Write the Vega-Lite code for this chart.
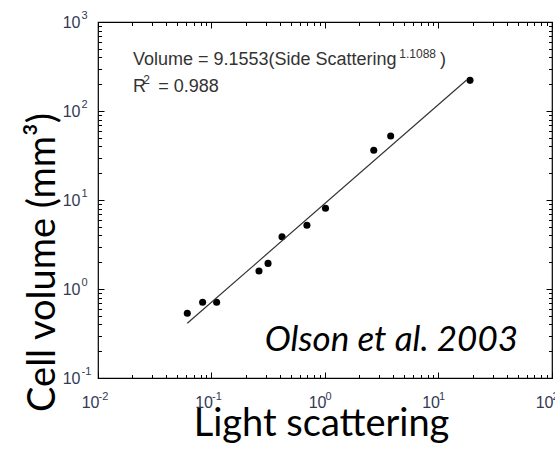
{
  "$schema": "https://vega.github.io/schema/vega-lite/v6.json",
  "width": 454,
  "height": 356,
  "autosize": {"type": "none"},
  "padding": {"left": 98, "top": 22, "right": 3, "bottom": 80},
  "background": "white",
  "config": {
    "view": {"stroke": "black", "strokeWidth": 1.2},
    "axis": {
      "domain": false,
      "grid": false,
      "tickColor": "black",
      "tickWidth": 1,
      "labelFont": "Liberation Sans",
      "labelColor": "#333a55",
      "labelFontSize": 16,
      "labelFlush": false,
      "labelOverlap": false,
      "titleFont": "Lato",
      "titleFontWeight": "normal",
      "titleColor": "black"
    }
  },
  "layer": [
    {
      "data": {"values": [
        {"x": 0.0612, "y": 0.533},
        {"x": 0.0835, "y": 0.709},
        {"x": 0.111, "y": 0.709},
        {"x": 0.262, "y": 1.59},
        {"x": 0.315, "y": 1.94},
        {"x": 0.418, "y": 3.87},
        {"x": 0.693, "y": 5.2},
        {"x": 1.01, "y": 8.07},
        {"x": 2.69, "y": 36.2},
        {"x": 3.79, "y": 52.4},
        {"x": 18.95, "y": 221}
      ]},
      "mark": {"type": "point", "filled": true, "color": "black", "opacity": 1, "size": 50},
      "encoding": {
        "x": {"field": "x", "type": "quantitative",
          "scale": {"type": "log", "domain": [0.01, 100], "nice": false},
          "axis": {"orient": "bottom", "values": [0.01, 0.1, 1, 10, 100], "ticks": false,
            "labelExpr": "'10'", "labelAlign": "right", "labelBaseline": "top", "labelPadding": 16, "labelOffset": 1,
            "title": "Light scattering", "titleFontSize": 38, "titleX": 223, "titleY": 57,
            "titleAlign": "center", "titleBaseline": "alphabetic", "titleAnchor": null}},
        "y": {"field": "y", "type": "quantitative",
          "scale": {"type": "log", "domain": [0.1, 1000], "nice": false},
          "axis": {"orient": "left", "values": [0.1, 1, 10, 100, 1000], "ticks": false,
            "labelExpr": "'10'", "labelAlign": "right", "labelBaseline": "middle", "labelPadding": 18,
            "title": "Cell volume (mm³)", "titleFontSize": 38, "titleX": -44, "titleY": 240,
            "titleAngle": -90, "titleAlign": "center", "titleBaseline": "alphabetic", "titleAnchor": null}}
      }
    },
    {
      "data": {"values": [
        {"x": 0.0612, "y": 0.412},
        {"x": 17.7, "y": 222.8}
      ]},
      "mark": {"type": "line", "color": "#333333", "strokeWidth": 1.2},
      "encoding": {
        "x": {"field": "x", "type": "quantitative",
          "scale": {"type": "log", "domain": [0.01, 100], "nice": false},
          "axis": {"orient": "top", "values": [0.01, 0.1, 1, 10, 100], "tickSize": -6, "labels": false, "title": null}},
        "y": {"field": "y", "type": "quantitative",
          "scale": {"type": "log", "domain": [0.1, 1000], "nice": false},
          "axis": {"orient": "right", "values": [0.1, 1, 10, 100, 1000], "tickSize": -6, "labels": false, "title": null}}
      }
    },
    {
      "data": {"values": [
        {"x": 0.0203, "y": 328.8, "t": "Volume = 9.1553(Side Scattering"},
        {"x": 10.31, "y": 328.8, "t": ")"}
      ]},
      "mark": {"type": "text", "font": "Liberation Sans", "fontSize": 18, "color": "#333333", "align": "left", "baseline": "alphabetic"},
      "encoding": {
        "text": {"field": "t"},
        "x": {"field": "x", "type": "quantitative",
          "scale": {"type": "log", "domain": [0.01, 100], "nice": false},
          "axis": {"orient": "bottom", "values": [0.01, 0.1, 1, 10, 100], "ticks": false,
            "labelExpr": "datum.value == 0.01 ? '-2' : datum.value == 0.1 ? '-1' : datum.value == 1 ? '0' : datum.value == 10 ? '1' : '2'",
            "labelAlign": "left", "labelBaseline": "top", "labelPadding": 12, "labelFontSize": 11, "labelOffset": 0, "title": null}},
        "y": {"field": "y", "type": "quantitative",
          "scale": {"type": "log", "domain": [0.1, 1000], "nice": false},
          "axis": {"orient": "left", "values": [0.1, 1, 10, 100, 1000], "ticks": false,
            "labelExpr": "datum.value == 0.1 ? '-1' : datum.value == 1 ? '0' : datum.value == 10 ? '1' : datum.value == 100 ? '2' : '3'",
            "labelAlign": "left", "labelBaseline": "middle", "labelPadding": 17, "labelFontSize": 11, "labelOffset": -7, "title": null}}
      }
    },
    {
      "data": {"values": [
        {"x": 4.514, "y": 394.0, "t": "1.1088"},
        {"x": 0.02506, "y": 200.9, "t": "2"}
      ]},
      "mark": {"type": "text", "font": "Liberation Sans", "fontSize": 12, "color": "#333333", "align": "left", "baseline": "alphabetic"},
      "encoding": {
        "text": {"field": "t"},
        "x": {"field": "x", "type": "quantitative",
          "scale": {"type": "log", "domain": [0.01, 100], "nice": false},
          "axis": {"orient": "bottom", "values": [0.01, 0.1, 1, 10, 100], "tickSize": -6, "labels": false, "title": null}},
        "y": {"field": "y", "type": "quantitative",
          "scale": {"type": "log", "domain": [0.1, 1000], "nice": false},
          "axis": {"orient": "left", "values": [0.1, 1, 10, 100, 1000], "tickSize": -6, "labels": false, "title": null}}
      }
    },
    {
      "data": {"values": [
        {"x": 50.15, "y": 0.2025, "t": "Olson et al. 2003"}
      ]},
      "mark": {"type": "text", "font": "Lato", "fontStyle": "italic", "fontSize": 35, "color": "black", "align": "right", "baseline": "alphabetic"},
      "encoding": {
        "text": {"field": "t"},
        "x": {"field": "x", "type": "quantitative",
          "scale": {"type": "log", "domain": [0.01, 100], "nice": false},
          "axis": {"orient": "bottom", "values": [0.02, 0.03, 0.04, 0.05, 0.06, 0.07, 0.08, 0.09, 0.2, 0.3, 0.4, 0.5, 0.6, 0.7, 0.8, 0.9, 2, 3, 4, 5, 6, 7, 8, 9, 20, 30, 40, 50, 60, 70, 80, 90],
            "tickSize": -3.5, "labels": false, "title": null}},
        "y": {"field": "y", "type": "quantitative",
          "scale": {"type": "log", "domain": [0.1, 1000], "nice": false},
          "axis": {"orient": "left", "values": [0.2, 0.3, 0.4, 0.5, 0.6, 0.7, 0.8, 0.9, 2, 3, 4, 5, 6, 7, 8, 9, 20, 30, 40, 50, 60, 70, 80, 90, 200, 300, 400, 500, 600, 700, 800, 900],
            "tickSize": -3.5, "labels": false, "title": null}}
      }
    },
    {
      "data": {"values": [
        {"x": 0.0203, "y": 164.8, "t": "R"},
        {"x": 0.03399, "y": 164.8, "t": "= 0.988"}
      ]},
      "mark": {"type": "text", "font": "Liberation Sans", "fontSize": 18, "color": "#333333", "align": "left", "baseline": "alphabetic"},
      "encoding": {
        "text": {"field": "t"},
        "x": {"field": "x", "type": "quantitative",
          "scale": {"type": "log", "domain": [0.01, 100], "nice": false},
          "axis": {"orient": "top", "values": [0.02, 0.03, 0.04, 0.05, 0.06, 0.07, 0.08, 0.09, 0.2, 0.3, 0.4, 0.5, 0.6, 0.7, 0.8, 0.9, 2, 3, 4, 5, 6, 7, 8, 9, 20, 30, 40, 50, 60, 70, 80, 90],
            "tickSize": -3.5, "labels": false, "title": null}},
        "y": {"field": "y", "type": "quantitative",
          "scale": {"type": "log", "domain": [0.1, 1000], "nice": false},
          "axis": {"orient": "right", "values": [0.2, 0.3, 0.4, 0.5, 0.6, 0.7, 0.8, 0.9, 2, 3, 4, 5, 6, 7, 8, 9, 20, 30, 40, 50, 60, 70, 80, 90, 200, 300, 400, 500, 600, 700, 800, 900],
            "tickSize": -3.5, "labels": false, "title": null}}
      }
    }
  ]
}
